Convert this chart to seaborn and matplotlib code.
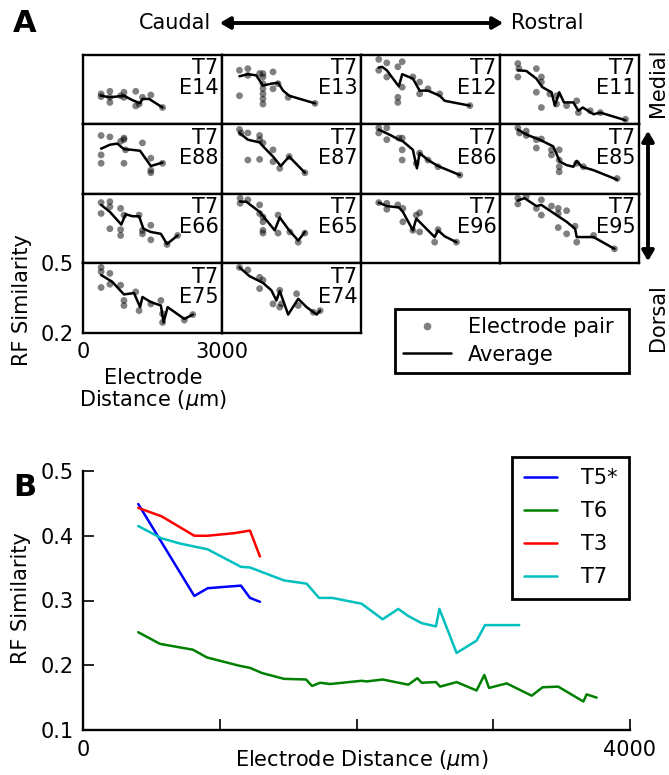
import numpy as np
import pandas as pd
import matplotlib
matplotlib.use("Agg")
import matplotlib.pyplot as plt
import seaborn as sns
from matplotlib.lines import Line2D

# ---------------- Panel A data (per electrode) ----------------
E14_pair_dist = [391, 391, 580, 580, 580, 812, 884, 884, 1138, 1138, 1210, 1283, 1464, 1717]
E14_pair_sim = [0.332, 0.320, 0.343, 0.317, 0.295, 0.324, 0.339, 0.317, 0.343, 0.280, 0.288, 0.317, 0.327, 0.273]
E14_avg_dist = [391, 580, 884, 1065, 1232, 1283, 1428, 1717]
E14_avg_sim = [0.324, 0.317, 0.324, 0.305, 0.291, 0.310, 0.310, 0.273]

E13_pair_dist = [377, 558, 377, 558, 812, 884, 884, 884, 884, 884, 884, 884, 1101, 1101, 1210, 1428, 2007]
E13_pair_sim = [0.434, 0.441, 0.324, 0.412, 0.420, 0.420, 0.405, 0.376, 0.354, 0.332, 0.310, 0.288, 0.427, 0.354, 0.376, 0.317, 0.291]
E13_avg_dist = [377, 558, 739, 884, 1065, 1210, 1319, 1449, 2007]
E13_avg_sim = [0.408, 0.417, 0.412, 0.368, 0.376, 0.380, 0.346, 0.324, 0.291]

E12_pair_dist = [383, 383, 557, 557, 795, 795, 795, 889, 889, 1120, 1265, 1265, 1446, 1699, 2349]
E12_pair_sim = [0.481, 0.434, 0.466, 0.405, 0.449, 0.317, 0.295, 0.471, 0.361, 0.405, 0.383, 0.332, 0.354, 0.332, 0.281]
E12_avg_dist = [383, 455, 557, 817, 889, 1120, 1265, 1446, 1699, 1807, 2349]
E12_avg_sim = [0.446, 0.449, 0.434, 0.364, 0.417, 0.398, 0.346, 0.346, 0.324, 0.302, 0.281]

E11_pair_dist = [385, 385, 407, 785, 893, 893, 785, 893, 1075, 1220, 1220, 1438, 1656, 1692, 1947, 2165, 2709]
E11_pair_sim = [0.463, 0.405, 0.441, 0.441, 0.405, 0.383, 0.339, 0.273, 0.332, 0.324, 0.288, 0.281, 0.302, 0.251, 0.259, 0.251, 0.222]
E11_avg_dist = [385, 567, 785, 915, 1111, 1184, 1278, 1380, 1583, 1692, 1787, 2019, 2165, 2709]
E11_avg_sim = [0.434, 0.431, 0.398, 0.361, 0.339, 0.281, 0.339, 0.295, 0.295, 0.259, 0.273, 0.244, 0.251, 0.218]

E88_pair_dist = [391, 580, 391, 391, 884, 884, 812, 920, 884, 1283, 1464, 1464, 1464, 1717]
E88_pair_sim = [0.452, 0.446, 0.368, 0.332, 0.434, 0.441, 0.427, 0.390, 0.332, 0.420, 0.354, 0.302, 0.291, 0.332]
E88_avg_dist = [391, 580, 739, 884, 1065, 1232, 1464, 1717]
E88_avg_sim = [0.395, 0.412, 0.417, 0.393, 0.390, 0.386, 0.320, 0.335]

E87_pair_dist = [377, 413, 558, 812, 812, 884, 558, 812, 1101, 1101, 1246, 1449, 1790]
E87_pair_sim = [0.478, 0.463, 0.463, 0.452, 0.434, 0.420, 0.346, 0.349, 0.390, 0.339, 0.310, 0.361, 0.291]
E87_avg_dist = [377, 558, 812, 920, 1101, 1268, 1449, 1790]
E87_avg_sim = [0.463, 0.434, 0.422, 0.398, 0.361, 0.320, 0.361, 0.291]

E86_pair_dist = [383, 383, 557, 557, 817, 889, 889, 889, 1193, 1265, 1446, 1663, 2133]
E86_pair_sim = [0.485, 0.463, 0.485, 0.434, 0.441, 0.441, 0.390, 0.346, 0.332, 0.376, 0.346, 0.317, 0.281]
E86_avg_dist = [383, 651, 817, 904, 1120, 1207, 1265, 1446, 1663, 2133]
E86_avg_sim = [0.478, 0.452, 0.434, 0.427, 0.390, 0.310, 0.376, 0.346, 0.320, 0.281]

E85_pair_dist = [385, 421, 567, 567, 785, 893, 785, 1111, 1111, 1278, 1278, 1278, 1278, 1656, 1801, 2528]
E85_pair_sim = [0.485, 0.463, 0.471, 0.452, 0.434, 0.437, 0.398, 0.390, 0.368, 0.390, 0.346, 0.317, 0.295, 0.332, 0.317, 0.266]
E85_avg_dist = [385, 567, 857, 1148, 1293, 1438, 1583, 1656, 1765, 2019, 2528]
E85_avg_sim = [0.478, 0.456, 0.434, 0.405, 0.339, 0.324, 0.317, 0.342, 0.317, 0.302, 0.261]

E66_pair_dist = [391, 391, 580, 580, 580, 812, 812, 812, 884, 1210, 1283, 1283, 1464, 1464, 1812, 2043]
E66_pair_sim = [0.462, 0.415, 0.466, 0.444, 0.349, 0.437, 0.345, 0.320, 0.408, 0.408, 0.342, 0.327, 0.364, 0.301, 0.281, 0.320]
E66_avg_dist = [391, 580, 826, 920, 1065, 1210, 1304, 1464, 1681, 1812, 2043]
E66_avg_sim = [0.452, 0.422, 0.367, 0.412, 0.403, 0.403, 0.349, 0.335, 0.327, 0.283, 0.320]

E65_pair_dist = [391, 391, 558, 812, 812, 884, 884, 884, 884, 1210, 1210, 1464, 1645, 1790]
E65_pair_sim = [0.481, 0.459, 0.474, 0.452, 0.415, 0.400, 0.379, 0.342, 0.330, 0.408, 0.330, 0.335, 0.291, 0.330]
E65_avg_dist = [391, 522, 812, 1138, 1246, 1449, 1645, 1790]
E65_avg_sim = [0.466, 0.466, 0.422, 0.342, 0.398, 0.342, 0.298, 0.335]

E96_pair_dist = [383, 557, 557, 795, 904, 904, 1120, 1193, 1265, 1265, 1590, 1663, 2060]
E96_pair_sim = [0.462, 0.459, 0.433, 0.452, 0.437, 0.379, 0.342, 0.408, 0.418, 0.335, 0.291, 0.345, 0.291]
E96_avg_dist = [383, 557, 817, 904, 1120, 1193, 1410, 1590, 1663, 1807, 2060]
E96_avg_sim = [0.462, 0.447, 0.441, 0.422, 0.342, 0.393, 0.349, 0.313, 0.342, 0.316, 0.291]

E95_pair_dist = [385, 385, 567, 785, 893, 893, 1111, 1257, 1257, 1257, 1438, 1438, 1620, 1656, 2019, 2470]
E95_pair_sim = [0.481, 0.456, 0.488, 0.437, 0.474, 0.408, 0.447, 0.437, 0.415, 0.354, 0.427, 0.327, 0.360, 0.291, 0.320, 0.262]
E95_avg_dist = [385, 530, 785, 893, 1220, 1438, 1620, 1656, 2019, 2470]
E95_avg_sim = [0.471, 0.481, 0.447, 0.452, 0.408, 0.379, 0.349, 0.313, 0.313, 0.262]

E75_pair_dist = [391, 391, 580, 391, 580, 812, 884, 884, 1138, 1210, 1464, 1681, 1717, 1717, 2188, 2370]
E75_pair_sim = [0.482, 0.463, 0.456, 0.395, 0.409, 0.405, 0.339, 0.317, 0.376, 0.295, 0.324, 0.339, 0.244, 0.281, 0.254, 0.278]
E75_avg_dist = [391, 630, 884, 1101, 1232, 1283, 1464, 1681, 1739, 1826, 2188, 2370]
E75_avg_sim = [0.449, 0.420, 0.365, 0.371, 0.310, 0.354, 0.332, 0.317, 0.244, 0.310, 0.259, 0.278]

E74_pair_dist = [377, 558, 812, 812, 884, 1101, 1246, 1246, 1283, 1609, 1645, 1971, 2116]
E74_pair_sim = [0.482, 0.471, 0.439, 0.390, 0.427, 0.324, 0.383, 0.310, 0.324, 0.368, 0.317, 0.288, 0.295]
E74_avg_dist = [377, 594, 884, 1065, 1174, 1246, 1428, 1645, 1826, 2043, 2116]
E74_avg_sim = [0.482, 0.444, 0.415, 0.383, 0.339, 0.380, 0.278, 0.346, 0.310, 0.278, 0.295]

grid_rows = [["E14", "E13", "E12", "E11"],
             ["E88", "E87", "E86", "E85"],
             ["E66", "E65", "E96", "E95"],
             ["E75", "E74"]]
array_name = "T7"

# ---------------- Panel B data ----------------
series_names = ["T5*", "T6", "T3", "T7"]
series_colors = ["#0000ff", "#008000", "#ff0000", "#00bfbf"]
T5_dist = [404, 814, 912, 1155, 1221, 1294]
T5_sim = [0.449, 0.307, 0.319, 0.323, 0.304, 0.298]
T6_dist = [404, 563, 804, 907, 1148, 1221, 1309, 1470, 1631, 1675, 1733, 1806, 2038, 2074, 2191,
           2379, 2445, 2477, 2581, 2611, 2732, 2878, 2935, 2969, 3098, 3281, 3361, 3475, 3659, 3683, 3756]
T6_sim = [0.251, 0.233, 0.224, 0.212, 0.199, 0.196, 0.188, 0.179, 0.178, 0.168, 0.173, 0.171, 0.176, 0.175, 0.178,
          0.170, 0.180, 0.173, 0.174, 0.167, 0.174, 0.161, 0.185, 0.165, 0.172, 0.153, 0.166, 0.167, 0.144, 0.155, 0.150]
T3_dist = [404, 575, 814, 912, 1106, 1221, 1294]
T3_sim = [0.443, 0.430, 0.400, 0.400, 0.404, 0.408, 0.368]
T7_dist = [404, 575, 709, 912, 1155, 1221, 1470, 1636, 1726, 1823, 2038, 2191, 2306, 2379, 2477,
           2581, 2606, 2732, 2878, 2940, 3190]
T7_sim = [0.415, 0.396, 0.388, 0.379, 0.352, 0.351, 0.331, 0.326, 0.304, 0.304, 0.295, 0.271, 0.287, 0.276, 0.265,
          0.260, 0.287, 0.219, 0.238, 0.262, 0.262]

# ---------------- figure ----------------
sns.set_style("white")
plt.rcParams["font.family"] = ["DejaVu Sans"]
plt.rcParams["mathtext.fontset"] = "dejavusans"
for k in ["text.color", "axes.labelcolor", "xtick.color", "ytick.color"]:
    plt.rcParams[k] = "black"
FS = 15

W, H = 669, 775
fig = plt.figure(figsize=(W / 100, H / 100), dpi=100)


def ax_px(l, t, w, h):
    return fig.add_axes([l / W, 1 - (t + h) / H, w / W, h / H])


def fx(px):
    return px / W


def fy(py):
    return 1 - py / H


g = globals()
cell_w, cell_h = 139, 69.4
x0, y0 = 83, 55
for r, row in enumerate(grid_rows):
    for c, name in enumerate(row):
        ax = ax_px(x0 + c * cell_w, y0 + r * cell_h, cell_w, cell_h)
        sns.scatterplot(x=g[name + "_pair_dist"], y=g[name + "_pair_sim"], ax=ax,
                        color="k", alpha=0.5, s=24, edgecolor="none", legend=False)
        sns.lineplot(x=g[name + "_avg_dist"], y=g[name + "_avg_sim"], ax=ax,
                     color="k", lw=1.8, sort=False, estimator=None)
        ax.set_xlim(0, 3000)
        ax.set_ylim(0.2, 0.5)
        for sp in ax.spines.values():
            sp.set_visible(True)
            sp.set_color("k")
            sp.set_linewidth(1.7)
        ax.text(0.975, 0.95, f"{array_name}\n{name}", transform=ax.transAxes,
                ha="right", va="top", fontsize=FS, linespacing=1.0)
        if r == 3 and c == 0:
            ax.set_xticks([0, 3000])
            ax.set_xticklabels(["0", "3000"])
            ax.set_yticks([0.2, 0.5])
            ax.set_yticklabels(["0.2", "0.5"])
            ax.tick_params(length=0, labelsize=FS, pad=7)
        else:
            ax.set_xticks([])
            ax.set_yticks([])

fig.text(fx(22), fy(300), "RF Similarity", rotation=90, ha="center", va="center", fontsize=FS)
fig.text(fx(153), fy(390), "Electrode\nDistance ($\\mu$m)", ha="center", va="center",
         fontsize=FS, linespacing=1.05)

# panel A legend (box stretched to the reference width)
legA = fig.legend(handles=[Line2D([], [], ls="none", marker="o", color="k", alpha=0.5, markersize=5.5,
                                  markeredgecolor="none", label="Electrode pair"),
                           Line2D([], [], color="k", lw=1.8, label="Average")],
                  loc="upper left", mode="expand",
                  bbox_to_anchor=(fx(395), fy(375), (629 - 395) / W, 66 / H), fontsize=FS,
                  fancybox=False, framealpha=1, edgecolor="k", handlelength=2.3,
                  handletextpad=0.8, borderpad=0.4, labelspacing=0.35, borderaxespad=0)
legA.get_frame().set_linewidth(2)

# orientation labels & arrows
fig.text(fx(25), fy(24), "A", fontsize=22, fontweight="bold", ha="center", va="center")
fig.text(fx(211), fy(23), "Caudal", fontsize=FS, ha="right", va="center")
fig.text(fx(511), fy(23), "Rostral", fontsize=FS, ha="left", va="center")
fig.patches.append(matplotlib.patches.FancyArrowPatch(
    (fx(217), fy(23)), (fx(506), fy(23)), transform=fig.transFigure,
    arrowstyle="<|-|>,head_length=6,head_width=3.5", color="k", lw=2.8, mutation_scale=1))
fig.patches.append(matplotlib.patches.FancyArrowPatch(
    (fx(648), fy(128)), (fx(648), fy(264)), transform=fig.transFigure,
    arrowstyle="<|-|>,head_length=6,head_width=3.5", color="k", lw=2.8, mutation_scale=1))
fig.text(fx(668), fy(83), "Medial", fontsize=FS, rotation=90, ha="right", va="center")
fig.text(fx(668), fy(318), "Dorsal", fontsize=FS, rotation=90, ha="right", va="center")

# ---------------- Panel B ----------------
axB = ax_px(83, 471, 547, 259)
series_dist = [T5_dist, T6_dist, T3_dist, T7_dist]
series_sim = [T5_sim, T6_sim, T3_sim, T7_sim]
for nm, col, d, s in zip(series_names, series_colors, series_dist, series_sim):
    sns.lineplot(x=d, y=s, ax=axB, color=col, lw=1.8, sort=False, estimator=None, label=nm)
axB.set_xlim(0, 4000)
axB.set_ylim(0.1, 0.5)
axB.set_xticks([0, 1000, 2000, 3000, 4000])
axB.set_xticklabels(["0", "", "", "", "4000"])
axB.set_yticks([0.1, 0.2, 0.3, 0.4, 0.5])
axB.set_yticklabels(["0.1", "0.2", "0.3", "0.4", "0.5"])
for side in ["top", "right"]:
    axB.spines[side].set_visible(False)
for side in ["left", "bottom"]:
    axB.spines[side].set_color("k")
    axB.spines[side].set_linewidth(1.7)
axB.tick_params(axis="both", direction="in", length=8, width=1.2, labelsize=FS, pad=7,
                left=True, bottom=True, colors="k")
axB.set_xlabel("")
axB.set_ylabel("")
axB.get_legend().remove()
legB = fig.legend(handles=axB.get_lines()[:4], labels=series_names, loc="upper right",
                  bbox_to_anchor=(fx(629), fy(457)), fontsize=FS, fancybox=False, framealpha=1,
                  edgecolor="k", handlelength=1.6, handletextpad=1.15, borderpad=0.55,
                  labelspacing=0.62, borderaxespad=0)
legB.get_frame().set_linewidth(2)

fig.text(fx(25), fy(488), "B", fontsize=22, fontweight="bold", ha="center", va="center")
fig.text(fx(21), fy(598), "RF Similarity", rotation=90, ha="center", va="center", fontsize=FS)
fig.text(fx(362), fy(760), "Electrode Distance ($\\mu$m)", ha="center", va="center", fontsize=FS)

fig.savefig("out.png", dpi=100)
